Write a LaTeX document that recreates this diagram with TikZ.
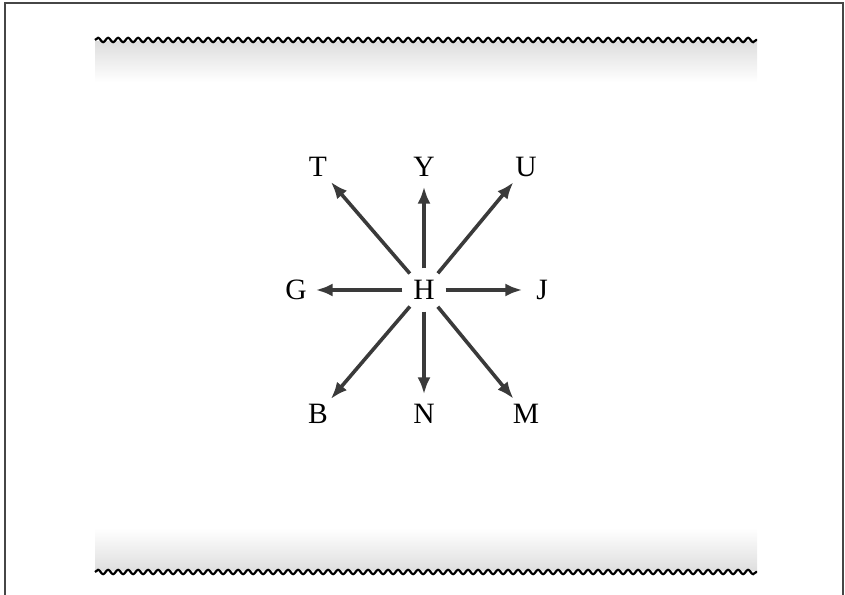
\documentclass[tikz,border=0pt]{standalone}
\usepackage{fontspec}
\setmainfont{Liberation Serif}
\usepackage{xcolor}
\definecolor{keygray}{RGB}{58, 58, 58}
\definecolor{bandgray}{RGB}{222, 222, 222}
\definecolor{framegray}{RGB}{70, 70, 70}
\usetikzlibrary{arrows.meta,decorations.pathmorphing,positioning}

\begin{document}
\begin{tikzpicture}[x=0.1mm, y=-0.1mm,
    keylabel/.style={circle, inner sep=0pt, minimum size=3.8mm, font=\fontsize{8.4}{9}\selectfont},
    keyarrow/.style={-{Latex[length=1.7mm,width=1.3mm]}, line width=0.36mm, keygray},
    wavyedge/.style={decorate, decoration={snake, segment length=1mm, amplitude=0.22mm}, line width=0.22mm}]
    \useasboundingbox (0,0) rectangle (845,595);

    % Page frame (open at the bottom)
    \draw[line width=0.2mm, framegray] (5,595) -- (5,3) -- (843,3) -- (843,595);

    % Torn edges of the keyboard strip
    \shade[top color=bandgray, bottom color=white] (95,42) rectangle (757,82);
    \draw[wavyedge] (95,40) -- (757,40);
    \shade[top color=white, bottom color=bandgray] (95,528) rectangle (757,571);
    \draw[wavyedge] (95,572) -- (757,572);

    % Home key and its neighbours
    \node[keylabel, minimum size=4.2mm] (H) at (424,290) {H};
    \node[keylabel] (T) at (318,167) {T};
    \node[keylabel] (Y) at (424,167) {Y};
    \node[keylabel] (U) at (526,167) {U};
    \node[keylabel] (G) at (296,290) {G};
    \node[keylabel] (J) at (542,290) {J};
    \node[keylabel] (B) at (318,414) {B};
    \node[keylabel] (N) at (424,414) {N};
    \node[keylabel] (M) at (526,414) {M};

    % Arrows
    \foreach \k in {T,Y,U,G,J,B,N,M}
        \draw[keyarrow] (H) -- (\k);
\end{tikzpicture}
\end{document}
